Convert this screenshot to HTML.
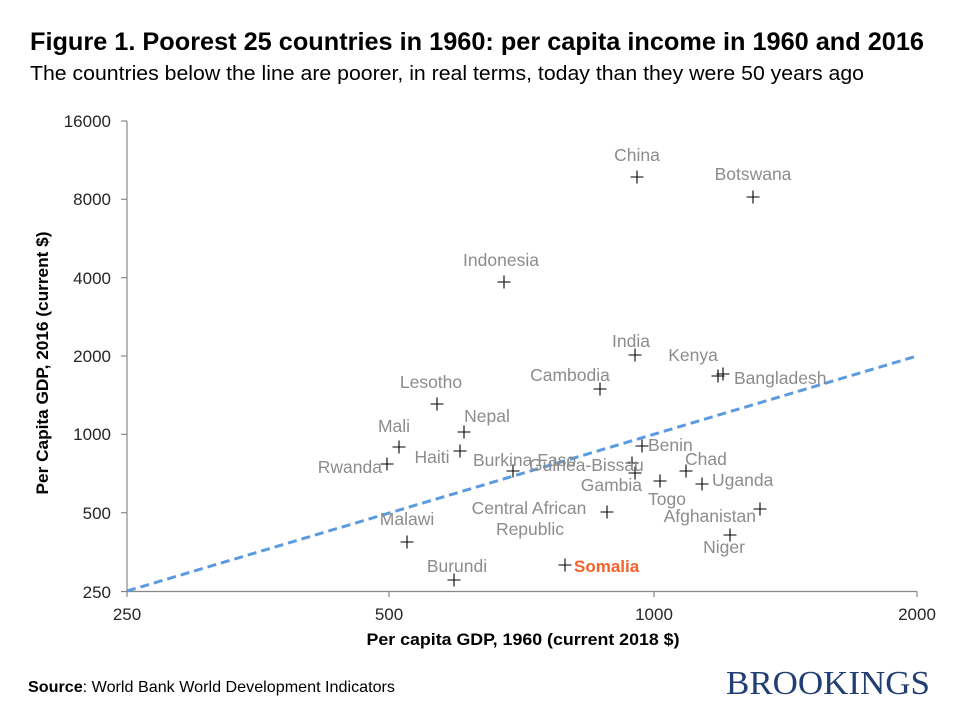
<!DOCTYPE html>
<html>
<head>
<meta charset="utf-8">
<style>
html,body{margin:0;padding:0;background:#fff;}
svg{display:block;}
.sans{font-family:"Liberation Sans",Arial,sans-serif;}
.lbl{font-size:17.5px;fill:#8c8c8c;}
.tk{font-size:17px;fill:#262626;}
</style>
</head>
<body>
<svg width="960" height="720" viewBox="0 0 960 720" xmlns="http://www.w3.org/2000/svg">
<rect width="960" height="720" fill="#fff"/>
<g class="sans">
<!-- Title -->
<text x="30" y="50" font-size="25" font-weight="bold" fill="#000" textLength="894" lengthAdjust="spacingAndGlyphs">Figure 1. Poorest 25 countries in 1960: per capita income in 1960 and 2016</text>
<text x="30" y="80" font-size="20" fill="#000" textLength="834" lengthAdjust="spacingAndGlyphs">The countries below the line are poorer, in real terms, today than they were 50 years ago</text>

<!-- Axes -->
<g stroke="#888" stroke-width="1.2" fill="none">
<line x1="127" y1="121" x2="127" y2="591.5"/>
<line x1="121" y1="591.5" x2="917" y2="591.5"/>
<line x1="121" y1="121" x2="127" y2="121"/>
<line x1="121" y1="199.3" x2="127" y2="199.3"/>
<line x1="121" y1="277.7" x2="127" y2="277.7"/>
<line x1="121" y1="356" x2="127" y2="356"/>
<line x1="121" y1="434.3" x2="127" y2="434.3"/>
<line x1="121" y1="512.7" x2="127" y2="512.7"/>
<line x1="127" y1="591.5" x2="127" y2="597"/>
<line x1="389" y1="591.5" x2="389" y2="597"/>
<line x1="654" y1="591.5" x2="654" y2="597"/>
<line x1="917" y1="591.5" x2="917" y2="597"/>
</g>

<!-- Y tick labels -->
<g class="tk" text-anchor="end">
<text x="111" y="127">16000</text>
<text x="111" y="205">8000</text>
<text x="111" y="284">4000</text>
<text x="111" y="362">2000</text>
<text x="111" y="440">1000</text>
<text x="111" y="519">500</text>
<text x="111" y="598">250</text>
</g>
<!-- X tick labels -->
<g class="tk" text-anchor="middle">
<text x="127" y="620">250</text>
<text x="389" y="620">500</text>
<text x="654" y="620">1000</text>
<text x="917" y="620">2000</text>
</g>

<!-- Axis titles -->
<text x="523" y="645" font-size="17" font-weight="bold" fill="#000" text-anchor="middle" textLength="313" lengthAdjust="spacingAndGlyphs">Per capita GDP, 1960 (current 2018 $)</text>
<text transform="translate(48,363) rotate(-90)" x="0" y="0" font-size="17" font-weight="bold" fill="#000" text-anchor="middle" textLength="263" lengthAdjust="spacingAndGlyphs">Per Capita GDP, 2016 (current $)</text>

<!-- Dashed 45-degree line -->
<line x1="127" y1="591" x2="917" y2="356" stroke="#5b9be0" stroke-width="3" stroke-dasharray="9,5"/>

<!-- Markers -->
<g stroke="#000" stroke-width="1.1">
<path d="M630.5 177h13M637 170.5v13"/>
<path d="M746.5 197h13M753 190.5v13"/>
<path d="M497.5 282h13M504 275.5v13"/>
<path d="M628.5 355h13M635 348.5v13"/>
<path d="M711.5 376h13M718 369.5v13"/>
<path d="M716.5 374h13M723 367.5v13"/>
<path d="M593.5 389h13M600 382.5v13"/>
<path d="M430.5 404h13M437 397.5v13"/>
<path d="M457.5 432h13M464 425.5v13"/>
<path d="M392.5 447h13M399 440.5v13"/>
<path d="M635.5 446h13M642 439.5v13"/>
<path d="M453.5 451h13M460 444.5v13"/>
<path d="M380.5 464h13M387 457.5v13"/>
<path d="M625.5 463h13M632 456.5v13"/>
<path d="M506.5 471h13M513 464.5v13"/>
<path d="M628.5 473h13M635 466.5v13"/>
<path d="M679.5 471h13M686 464.5v13"/>
<path d="M653.5 481h13M660 474.5v13"/>
<path d="M695.5 484h13M702 477.5v13"/>
<path d="M600.5 512h13M607 505.5v13"/>
<path d="M753.5 509h13M760 502.5v13"/>
<path d="M723.5 535h13M730 528.5v13"/>
<path d="M400.5 542h13M407 535.5v13"/>
<path d="M558.5 565h13M565 558.5v13"/>
<path d="M447.5 580h13M454 573.5v13"/>
</g>

<!-- Labels -->
<g class="lbl">
<text x="637" y="161" text-anchor="middle">China</text>
<text x="753" y="180" text-anchor="middle">Botswana</text>
<text x="501" y="266" text-anchor="middle">Indonesia</text>
<text x="631" y="347" text-anchor="middle">India</text>
<text x="693" y="361" text-anchor="middle">Kenya</text>
<text x="734" y="384">Bangladesh</text>
<text x="570" y="381" text-anchor="middle">Cambodia</text>
<text x="431" y="388" text-anchor="middle">Lesotho</text>
<text x="487" y="422" text-anchor="middle">Nepal</text>
<text x="394" y="432" text-anchor="middle">Mali</text>
<text x="648" y="451">Benin</text>
<text x="432" y="463" text-anchor="middle">Haiti</text>
<text x="382" y="473" text-anchor="end">Rwanda</text>
<text x="473" y="466">Burkina Faso</text>
<text x="529" y="471">Guinea-Bissau</text>
<text x="642" y="491" text-anchor="end">Gambia</text>
<text x="685" y="465">Chad</text>
<text x="648" y="505">Togo</text>
<text x="712" y="486">Uganda</text>
<text x="529" y="514" text-anchor="middle">Central African</text>
<text x="530" y="535" text-anchor="middle">Republic</text>
<text x="756" y="522" text-anchor="end">Afghanistan</text>
<text x="724" y="553" text-anchor="middle">Niger</text>
<text x="407" y="525" text-anchor="middle">Malawi</text>
<text x="457" y="572" text-anchor="middle">Burundi</text>
</g>
<text x="574" y="572" font-size="17" font-weight="bold" fill="#f4622a">Somalia</text>

<!-- Source -->
<text x="28" y="692" font-size="16" fill="#000" textLength="367" lengthAdjust="spacingAndGlyphs"><tspan font-weight="bold">Source</tspan>: World Bank World Development Indicators</text>
</g>

<!-- Brookings -->
<text x="726" y="694" style="font-family:'Liberation Serif','DejaVu Serif',serif;font-size:34px;" fill="#213f74" textLength="204" lengthAdjust="spacingAndGlyphs">BROOKINGS</text>
</svg>
</body>
</html>
